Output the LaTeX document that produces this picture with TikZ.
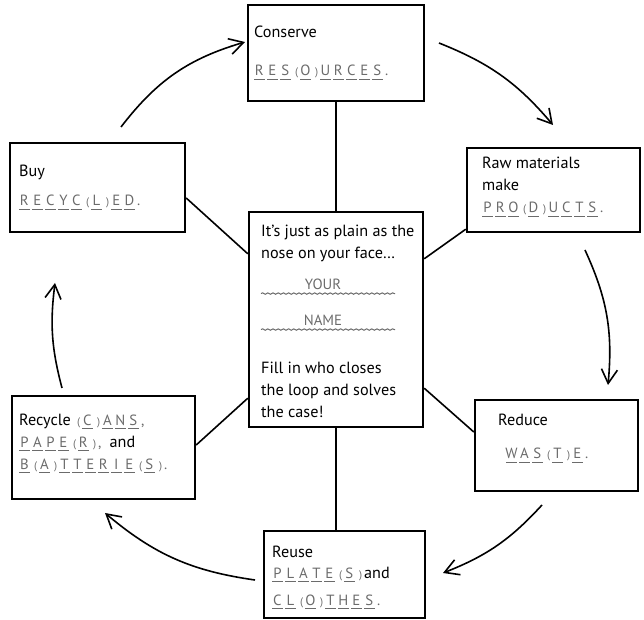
\documentclass[tikz,border=0pt]{standalone}
\usepackage{fontspec}
\setmainfont{PT Sans}
\usepackage{tikz}
\usetikzlibrary{arrows.meta,positioning,calc,decorations.pathmorphing}
\usepackage{xcolor}
\definecolor{blankgray}{gray}{0.42}
\newcommand\bl[1]{\makebox[6.5pt][l]{\rlap{\rule[-1.8pt]{5.2pt}{0.35pt}}\makebox[5.2pt]{#1}}}
\newcommand\bopen{\makebox[3.5pt]{\fontsize{5.5}{6}\selectfont(}}
\newcommand\bclose{\makebox[3.5pt]{\fontsize{5.5}{6}\selectfont)}}
\newcommand\blanks[1]{\textcolor{blankgray}{\fontsize{7.4}{11}\selectfont#1}}

\begin{document}
\begin{tikzpicture}[
    x=0.5pt, y=-0.5pt,
    >={Straight Barb[length=7pt,width=8pt]},
    box/.style={
        draw,
        rectangle,
        line width=1.2pt,
        inner sep=0pt
    },
    lbl/.style={align=left, inner sep=0pt, font=\fontsize{8.1}{11}\selectfont},
    blank/.style={text=blankgray, inner sep=0pt, font=\fontsize{7.4}{8}\selectfont},
    link/.style={draw, line width=0.8pt},
    roundarrow/.style={->, line width=0.8pt},
    wavy/.style={draw=blankgray, line width=0.5pt, decorate,
        decoration={snake, amplitude=0.35pt, segment length=2.6pt}}
]
\useasboundingbox (0,0) rectangle (644,620);

% ---------------- Boxes ----------------
\node[box, minimum width=88pt, minimum height=48pt] (conserve) at (336,53) {};
\node[box, minimum width=87.5pt, minimum height=44.5pt] (buy) at (97.5,187.5) {};
\node[box, minimum width=86.5pt, minimum height=42pt] (raw) at (553.5,190) {};
\node[box, minimum width=87pt, minimum height=107.5pt] (clue) at (336,319.5) {};
\node[box, minimum width=81.5pt, minimum height=45.5pt] (reduce) at (556.5,445.5) {};
\node[box, minimum width=91.5pt, minimum height=51.5pt] (recycle) at (103.5,447.5) {};
\node[box, minimum width=80.5pt, minimum height=43.5pt] (reuse) at (344.5,574.5) {};

% ---------------- Box texts ----------------
\node[lbl, right=3.5pt of conserve.west] (conservetxt)
    {Conserve\\[8pt]\blanks{\bl R\bl E\bl S\bopen\bl O\bclose\bl U\bl R\bl C\bl E\bl S.}};
\node[lbl, right=5pt of buy.west] (buytxt)
    {Buy\\[3.5pt]\blanks{\bl R\bl E\bl C\bl Y\bl C\bopen\bl L\bclose\bl E\bl D.}};
\node[lbl, right=8pt of raw.west, yshift=1.5pt] (rawtxt)
    {Raw materials\\make\\\blanks{\bl P\bl R\bl O\bopen\bl D\bclose\bl U\bl C\bl T\bl S.}};
\node[lbl, right=12pt of reduce.west, yshift=3.5pt] (reducetxt)
    {Reduce\\[5.5pt]\hspace*{4pt}\blanks{\bl W\bl A\bl S\bopen\bl T\bclose\bl E.}};
\node[lbl, right=4.5pt of reuse.west, yshift=-1.5pt] (reusetxt)
    {Reuse\\[-0.5pt]\blanks{\bl P\bl L\bl A\bl T\bl E\bopen\bl S\bclose}and\\[2.5pt]%
     \blanks{\bl C\bl L\bopen\bl O\bclose\bl T\bl H\bl E\bl S.}};
\node[lbl, right=4pt of recycle.west, yshift=2pt] (recycletxt)
    {Recycle \blanks{\bopen\bl C\bclose\bl A\bl N\bl S,}\\
     \blanks{\bl P\bl A\bl P\bl E\bopen\bl R\bclose,}\enspace and\\
     \blanks{\bl B\bopen\bl A\bclose\bl T\bl T\bl E\bl R\bl I\bl E\bopen\bl S\bclose.}};

% ---------------- Centre clue ----------------
\node[lbl, anchor=north west] (riddle) at ([shift={(6.5pt,-7pt)}]clue.north west)
    {It's just as plain as the\\nose on your face\ldots};
\node[blank] (your) at ([shift={(-6.5pt,-37pt)}]clue.north) {YOUR};
\node[blank] (name) at ([shift={(-6.5pt,-55pt)}]clue.north) {NAME};
\draw[wavy] ([shift={(-31pt,-1.5pt)}]your.south) -- ([shift={(36pt,-1.5pt)}]your.south);
\draw[wavy] ([shift={(-31pt,-1.5pt)}]name.south) -- ([shift={(36pt,-1.5pt)}]name.south);
\node[lbl, anchor=south west] (fillin) at ([shift={(6.5pt,5pt)}]clue.south west)
    {Fill in who closes\\the loop and solves\\the case!};

% ---------------- Links to the clue ----------------
\draw[link] (conserve) -- (clue);
\draw[link] ([yshift=-5.25pt]buy.east) -- ([yshift=-21.5pt]clue.north west);
\draw[link] ([yshift=-24pt]clue.north east) -- ([yshift=2pt]raw.south west);
\draw[link] ([yshift=15pt]clue.south west) -- ([yshift=1.25pt]recycle.east);
\draw[link] ([yshift=20pt]clue.south east) -- ([yshift=6.75pt]reduce.west);
\draw[link] (clue.south) -- (clue.south |- reuse.north);

% ---------------- Cycle arrows ----------------
\coordinate (a1s) at (121,127);  \coordinate (a1e) at (245,42);
\coordinate (a2s) at (439,43);   \coordinate (a2e) at (553,125);
\coordinate (a3s) at (585,250);  \coordinate (a3e) at (608,385);
\coordinate (a4s) at (542,505);  \coordinate (a4e) at (443,573);
\coordinate (a5s) at (255,580);  \coordinate (a5e) at (105,513);
\coordinate (a6s) at (62,388);   \coordinate (a6e) at (55,283);

\draw[roundarrow] (a1s) to[bend left=18] (a1e);
\draw[roundarrow] (a2s) to[bend left=14] (a2e);
\draw[roundarrow] (a3s) to[bend left=15] (a3e);
\draw[roundarrow] (a4s) to[bend left=13] (a4e);
\draw[roundarrow] (a5s) to[bend left=16] (a5e);
\draw[roundarrow] (a6s) to[bend left=11] (a6e);

\end{tikzpicture}
\end{document}
